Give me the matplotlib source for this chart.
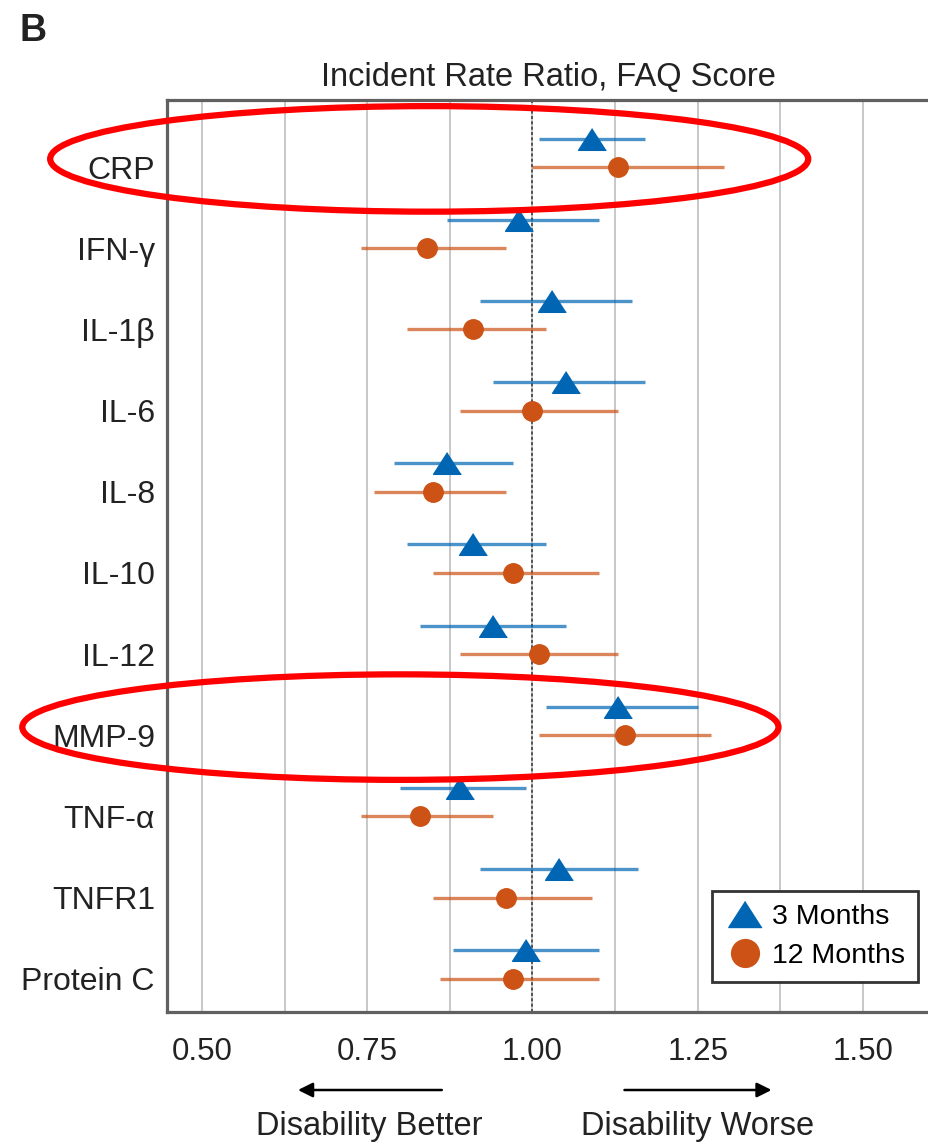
import matplotlib.pyplot as plt
from matplotlib.patches import Ellipse
from matplotlib.lines import Line2D
from matplotlib.transforms import blended_transform_factory
import numpy as np

plt.rcParams['font.family'] = ['Liberation Sans', 'DejaVu Sans']

# Dados
categorias = ['CRP', 'IFN-γ', 'IL-1β', 'IL-6', 'IL-8', 'IL-10', 'IL-12',
              'MMP-9', 'TNF-α', 'TNFR1', 'Protein C']
irr_3m = [1.09, 0.98, 1.03, 1.05, 0.87, 0.91, 0.94, 1.13, 0.89, 1.04, 0.99]
lo_3m = [1.01, 0.87, 0.92, 0.94, 0.79, 0.81, 0.83, 1.02, 0.80, 0.92, 0.88]
hi_3m = [1.17, 1.10, 1.15, 1.17, 0.97, 1.02, 1.05, 1.25, 0.99, 1.16, 1.10]
irr_12m = [1.13, 0.84, 0.91, 1.00, 0.85, 0.97, 1.01, 1.14, 0.83, 0.96, 0.97]
lo_12m = [1.00, 0.74, 0.81, 0.89, 0.76, 0.85, 0.89, 1.01, 0.74, 0.85, 0.86]
hi_12m = [1.29, 0.96, 1.02, 1.13, 0.96, 1.10, 1.13, 1.27, 0.94, 1.09, 1.10]
rotulos_x = ['0.50', '0.75', '1.00', '1.25', '1.50']
destaques = ['CRP', 'MMP-9']

azul = '#0066b3'
laranja = '#cc5216'
tri = [(0, 0.78), (-1, -0.78), (1, -0.78)]

fig = plt.figure(figsize=(9.29, 11.46), dpi=100)
ax = fig.add_axes([0.1802, 0.1169, 0.8198, 0.7958])

y = np.arange(len(categorias))
y_3m = y - 0.35

# barras de intervalo
ax.hlines(y_3m, lo_3m, hi_3m, color=azul, lw=2.4, alpha=0.7, zorder=3)
ax.hlines(y, lo_12m, hi_12m, color=laranja, lw=2.4, alpha=0.7, zorder=3)
ax.plot(irr_3m, y_3m, ls='none', marker=tri, ms=20, color=azul, mec=azul, zorder=5)
ax.plot(irr_12m, y, ls='none', marker='o', ms=14, color=laranja, mec=laranja, zorder=5)

ax.axvline(1.0, color='#333333', ls=(0, (2, 1.5)), lw=1.1, zorder=2)

ax.set_xlim(0.4476, 1.6)
ax.set_ylim(10.41, -0.825)
ax.set_xticks([0.5, 0.75, 1.0, 1.25, 1.5])
ax.set_xticklabels(rotulos_x)
ax.set_xticks(np.arange(0.625, 1.5, 0.25), minor=True)
ax.set_yticks(y)
ax.set_yticklabels(categorias)
ax.tick_params(axis='both', which='both', length=0, colors='#222222')
ax.tick_params(axis='x', pad=18, labelsize=22.5)
ax.tick_params(axis='y', pad=9, labelsize=23)
ax.grid(axis='x', which='both', color='#c4c4c4', lw=1.3, zorder=0)
ax.set_axisbelow(True)

for lado in ['top', 'left', 'bottom']:
    ax.spines[lado].set_color('#606060')
    ax.spines[lado].set_linewidth(2.3)
ax.spines['right'].set_visible(False)

ax.set_title('Incident Rate Ratio, FAQ Score', fontsize=23.5, color='#222222', pad=10)

# legenda
h1 = Line2D([], [], ls='none', marker=tri, ms=24, color=azul, label='3 Months')
h2 = Line2D([], [], ls='none', marker='o', ms=20, color=laranja, label='12 Months')
leg = ax.legend(handles=[h1, h2], loc='lower right', bbox_to_anchor=(0.985, 0.033),
                borderaxespad=0, fontsize=20.5, fancybox=False, framealpha=1,
                handletextpad=0.25, handlelength=1.4, borderpad=0.45, labelspacing=0.45)
leg.get_frame().set_edgecolor('#333333')
leg.get_frame().set_linewidth(2.0)

# setas abaixo do eixo
tr = ax.get_xaxis_transform()
ax.annotate('', xy=(0.641, -0.0855), xytext=(0.867, -0.0855), xycoords=tr,
            arrowprops=dict(arrowstyle='-|>', lw=1.8, color='black', mutation_scale=22))
ax.annotate('', xy=(1.366, -0.0855), xytext=(1.135, -0.0855), xycoords=tr,
            arrowprops=dict(arrowstyle='-|>', lw=1.8, color='black', mutation_scale=22))
ax.text(0.753, -0.126, 'Disability Better', transform=tr, ha='center', va='center',
        fontsize=23.5, color='#222222')
ax.text(1.25, -0.126, 'Disability Worse', transform=tr, ha='center', va='center',
        fontsize=23.5, color='#222222')

# elipses vermelhas de destaque
tr_el = blended_transform_factory(fig.transFigure, ax.transData)
for nome, cx, w in zip(destaques, [0.462, 0.431], [0.816, 0.814]):
    yi = categorias.index(nome)
    el = Ellipse((cx, yi - 0.1), w, 1.3, transform=tr_el, fill=False,
                 edgecolor='#ff0000', lw=4.5, clip_on=False, zorder=10)
    ax.add_patch(el)

fig.text(0.021, 0.973, 'B', fontsize=27, fontweight='bold', va='center', color='#222222')

fig.savefig('out.png', dpi=100)
